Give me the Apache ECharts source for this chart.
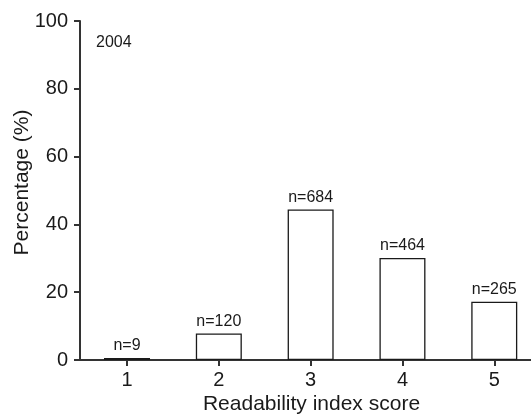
<!DOCTYPE html>
<html>
<head>
<meta charset="utf-8">
<script src="https://cdn.jsdelivr.net/npm/echarts@6/dist/echarts.min.js"></script>
<style>html,body{margin:0;padding:0;background:#fff;}#c{width:531px;height:416px;}</style>
</head>
<body>
<div id="c"></div>
<script>
const scores = [1, 2, 3, 4, 5];
const percentages = [0.6, 7.8, 44.4, 30.1, 17.2];
const counts = ['n=9', 'n=120', 'n=684', 'n=464', 'n=265'];
const yTicks = [0, 20, 40, 60, 80, 100];
const yearLabel = '2004';

const FONT = 'Liberation Sans, Arial, sans-serif';
const INK = '#1a1a1a';
const chart = echarts.init(document.getElementById('c'), null, {renderer: 'canvas'});
chart.setOption({
  animation: false,
  backgroundColor: '#fff',
  title: {
    text: yearLabel, left: 91, top: 30,
    textStyle: {fontFamily: FONT, fontSize: 16, fontWeight: 'normal', color: INK}
  },
  grid: {left: 80, right: 0, top: 21, bottom: 56, containLabel: false, outerBoundsMode: 'none'},
  xAxis: {
    type: 'value', min: 0.488, max: 5.4,
    name: 'Readability index score', nameLocation: 'middle', nameGap: 34, nameMoveOverlap: false,
    nameTextStyle: {fontFamily: FONT, fontSize: 21, color: INK, padding: [0, 0, 0, 12]},
    axisLine: {show: true, lineStyle: {color: '#333', width: 2}},
    axisTick: {show: true, length: 6, customValues: scores, lineStyle: {color: '#333', width: 2}},
    axisLabel: {customValues: scores, margin: 10, fontFamily: FONT, fontSize: 20, color: INK},
    splitLine: {show: false}
  },
  yAxis: {
    type: 'value', min: 0, max: 100, interval: 20,
    name: 'Percentage (%)', nameLocation: 'middle', nameGap: 47, nameRotate: 90, nameMoveOverlap: false,
    nameTextStyle: {fontFamily: FONT, fontSize: 21, color: INK, padding: [0, 0, 0, 16]},
    axisLine: {show: true, lineStyle: {color: '#333', width: 2}},
    axisTick: {show: true, length: 6, lineStyle: {color: '#333', width: 2}},
    axisLabel: {margin: 12, fontFamily: FONT, fontSize: 20, color: INK,
      customValues: yTicks},
    splitLine: {show: false}
  },
  series: [{
    type: 'bar',
    barWidth: 46,
    data: scores.map((s, i) => ({value: [s, percentages[i]], label: {formatter: counts[i]}})),
    itemStyle: {color: '#fff', borderColor: '#1a1a1a', borderWidth: 1.3},
    label: {show: true, position: 'top', distance: 4, fontFamily: FONT, fontSize: 16, color: INK}
  }]
});
</script>
</body>
</html>
